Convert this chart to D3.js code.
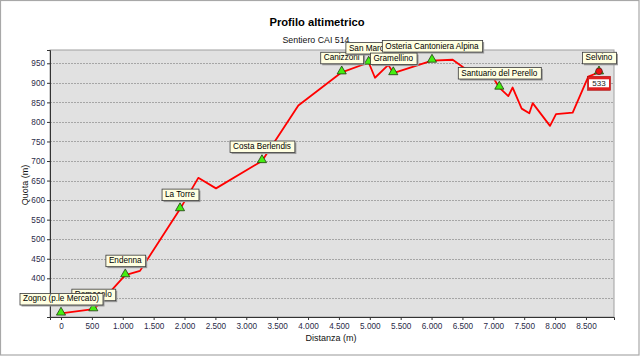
<!DOCTYPE html>
<html><head><meta charset="utf-8">
<script src="https://cdn.jsdelivr.net/npm/d3@7"></script>
<style>
html,body{margin:0;padding:0;background:#fff;}
svg{display:block;font-family:"Liberation Sans",Arial,sans-serif;}
</style></head>
<body>
<svg id="chart" width="640" height="357"></svg>
<script>
// ---- data ----
const distances = [0, 523, 604, 1041, 1279, 1927, 2223, 2510, 3254, 3843, 4545, 4982, 5084, 5300, 5380, 6007, 6342, 6574, 7011, 7097, 7243, 7313, 7459, 7583, 7637, 7918, 8015, 8285, 8538, 8711];
const elevations = [310, 321, 332, 408, 419, 577, 657, 630, 700, 842, 927, 952, 913, 946, 925, 957, 959, 933, 910, 888, 866, 888, 834, 822, 848, 790, 820, 824, 916, 927];
const waypointNames = ["Romacolo", "Zogno (p.le Mercato)", "Endenna", "La Torre", "Costa Berlendis", "Canizzoni", "San Marco", "Osteria Cantoniera Alpina", "Gramellino", "Santuario del Perello", "Selvino"];
const waypointIndex = [1, 0, 3, 5, 8, 10, 11, 15, 14, 19, 29];
const endValueLabel = "533";
const xTicks = [0, 500, 1000, 1500, 2000, 2500, 3000, 3500, 4000, 4500, 5000, 5500, 6000, 6500, 7000, 7500, 8000, 8500];
const yTickLabels = [400, 450, 500, 550, 600, 650, 700, 750, 800, 850, 900, 950];
const yGridLines = [350, 400, 450, 500, 550, 600, 650, 700, 750, 800, 850, 900, 950];
const titleText = "Profilo altimetrico";
const subtitleText = "Sentiero CAI 514";
const xLabel = "Distanza (m)";
const yLabel = "Quota (m)";

// ---- layout ----
const svg = d3.select("#chart");
const L = 50, R = 614, T = 50, B = 317;
const x = d3.scaleLinear().domain([-178, 8954]).range([L, R]);
const y = d3.scaleLinear().domain([301, 984]).range([B, T]);
const loc = d3.formatLocale({decimal: ",", thousands: ".", grouping: [3], currency: ["", ""]});
const fmt = loc.format(",");

// outer frame
svg.append("rect").attr("x", 0.5).attr("y", 0.5).attr("width", 638.5).attr("height", 354.5)
  .attr("fill", "#fff").attr("stroke", "#a8a8a8").attr("stroke-width", 1.2);

// titles
svg.append("text").attr("x", 317).attr("y", 26).attr("text-anchor", "middle")
  .attr("font-size", 11.2).attr("font-weight", "bold").attr("fill", "#000").text(titleText);
svg.append("text").attr("x", 316).attr("y", 43).attr("text-anchor", "middle")
  .attr("font-size", 8.8).attr("fill", "#111").text(subtitleText);

// plot area
svg.append("rect").attr("x", L).attr("y", T).attr("width", R - L).attr("height", B - T)
  .attr("fill", "#e1e1e1").attr("stroke", "#a0a0a0").attr("stroke-width", 1);

// grid
svg.append("g").selectAll("line").data(yGridLines).join("line")
  .attr("x1", L).attr("x2", R)
  .attr("y1", d => Math.round(y(d)) + 0.5).attr("y2", d => Math.round(y(d)) + 0.5)
  .attr("stroke", "#a6a6a6").attr("stroke-dasharray", "2,1").attr("stroke-width", 1);

// axes
const xAxis = d3.axisBottom(x).tickValues(xTicks).tickFormat(fmt).tickSize(3).tickPadding(3);
const gx = svg.append("g").attr("transform", `translate(0,${B})`).call(xAxis);
gx.select(".domain").attr("stroke", "#333");
gx.selectAll(".tick line").attr("stroke", "#333");
gx.selectAll("text").attr("font-size", 8.2).attr("fill", "#2a2a48").attr("font-family", "Liberation Sans, Arial, sans-serif");

const yAxis = d3.axisLeft(y).tickValues(yTickLabels).tickSize(3).tickPadding(2);
const gy = svg.append("g").attr("transform", `translate(${L},0)`).call(yAxis);
gy.select(".domain").attr("stroke", "#333");
gy.selectAll(".tick line").attr("stroke", "#333");
gy.selectAll("text").attr("font-size", 8.2).attr("fill", "#2a2a48").attr("font-family", "Liberation Sans, Arial, sans-serif");

// axis labels
svg.append("text").attr("x", 331).attr("y", 341).attr("text-anchor", "middle")
  .attr("font-size", 9).attr("fill", "#111").text(xLabel);
svg.append("text").attr("transform", "translate(28,185) rotate(-90)").attr("text-anchor", "middle")
  .attr("font-size", 9).attr("fill", "#111").text(yLabel);

// profile line
const pts = distances.map((d, i) => [d, elevations[i]]);
svg.append("path").datum(pts)
  .attr("d", d3.line().x(d => x(d[0])).y(d => y(d[1])))
  .attr("fill", "none").attr("stroke", "#ff0000").attr("stroke-width", 1.8)
  .attr("stroke-linejoin", "round");

// waypoint markers
const tri = d3.symbol().type(d3.symbolTriangle).size(36);
const wps = waypointIndex.map((idx, k) => ({name: waypointNames[k], d: distances[idx], e: elevations[idx], last: idx === distances.length - 1}));
svg.append("g").selectAll("path").data(wps).join("path")
  .attr("d", tri)
  .attr("transform", d => `translate(${x(d.d)},${y(d.e) - 1})`)
  .attr("fill", "#44ee11").attr("stroke", "#1f3a10").attr("stroke-width", 0.8);

// end marker (red circle)
const endW = wps.find(w => w.last);
svg.append("circle").attr("cx", x(endW.d)).attr("cy", y(endW.e) - 1).attr("r", 3.3)
  .attr("fill", "#ee1111").attr("stroke", "#552222").attr("stroke-width", 0.8);

// end value box
{
  const cx = x(endW.d), top = y(endW.e) + 4;
  const w = 23, h = 14;
  svg.append("rect").attr("x", cx - w / 2).attr("y", top).attr("width", w).attr("height", h)
    .attr("fill", "#e02020").attr("stroke", "#b01010").attr("stroke-width", 0.6);
  svg.append("rect").attr("x", cx - w / 2 + 1.5).attr("y", top + 3).attr("width", w - 3).attr("height", h - 6)
    .attr("fill", "#fff");
  svg.append("text").attr("x", cx).attr("y", top + 10).attr("text-anchor", "middle")
    .attr("font-size", 8).attr("fill", "#222").text(endValueLabel);
}

// labels
const lg = svg.append("g");
wps.forEach(w => {
  const g = lg.append("g");
  const cx = x(w.d), bottom = y(w.e) - 9;
  const t = g.append("text").attr("font-size", 8.2).attr("fill", "#000").attr("text-anchor", "middle")
    .attr("x", cx).attr("y", bottom - 3).text(w.name);
  const tw = t.node().getComputedTextLength();
  const bw = tw + 7, bh = 11.5;
  g.insert("rect", "text").attr("x", cx - bw / 2 + 2).attr("y", bottom - bh + 2).attr("width", bw).attr("height", bh)
    .attr("fill", "#9a9a9a");
  g.insert("rect", "text").attr("x", cx - bw / 2 + 0.5).attr("y", bottom - bh + 0.5).attr("width", bw).attr("height", bh)
    .attr("fill", "#ffffe1").attr("stroke", "#3a3a3a").attr("stroke-width", 0.8);
});
</script>
</body></html>
